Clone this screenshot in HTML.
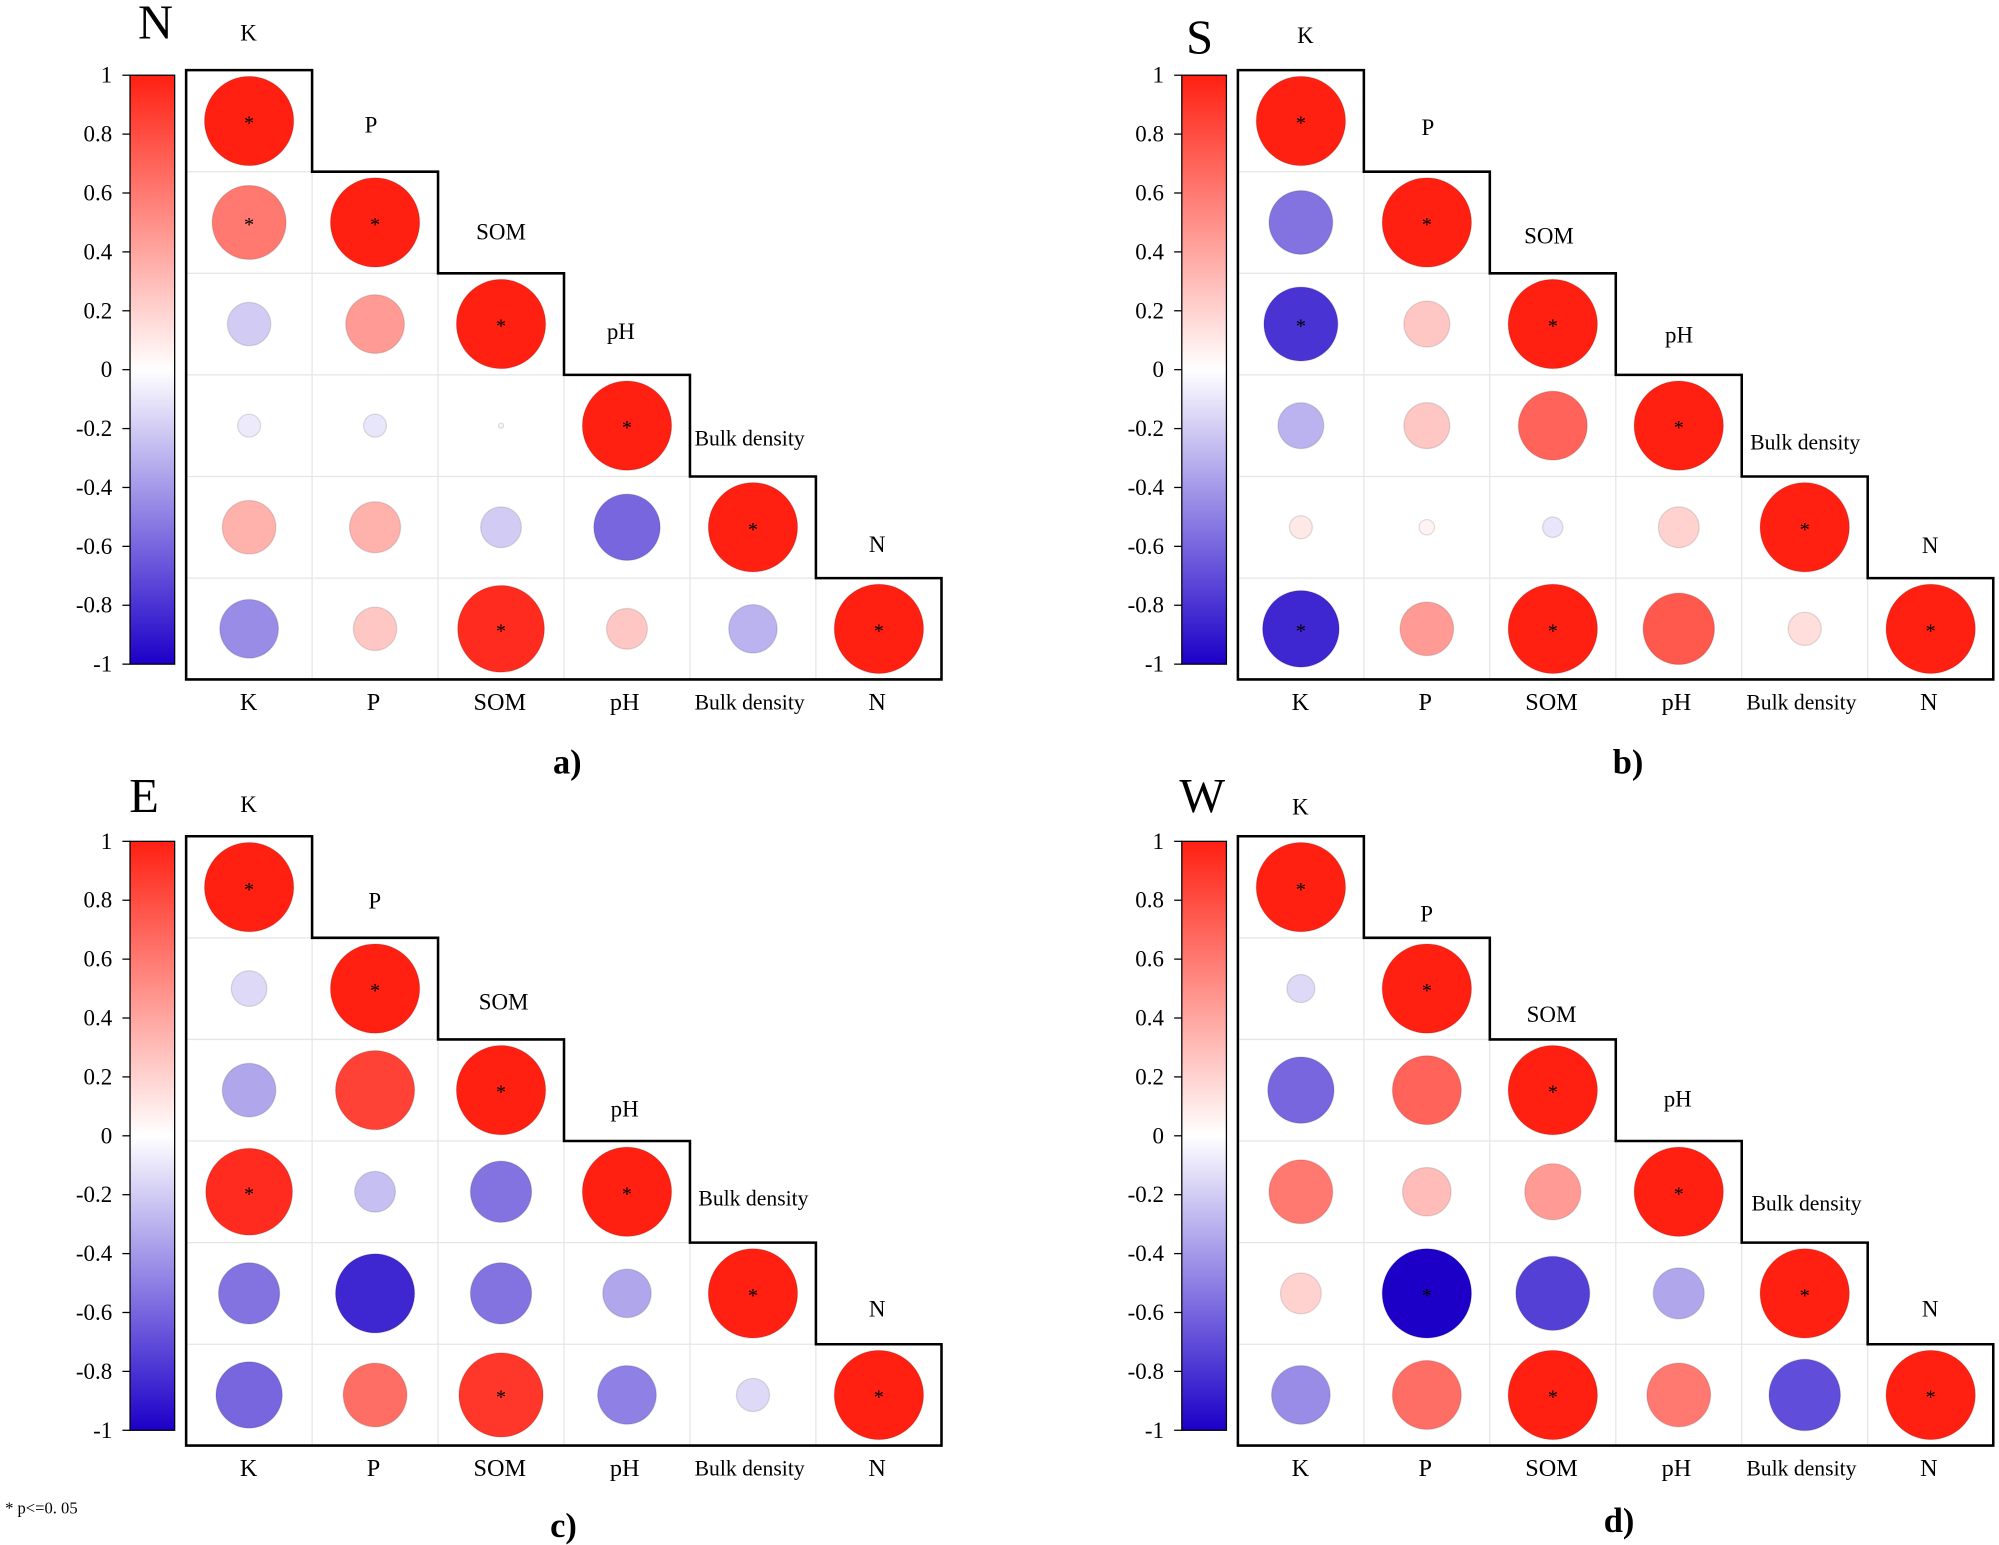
<!DOCTYPE html>
<html><head><meta charset="utf-8"><style>
html,body{margin:0;padding:0;background:#fff;}
svg{display:block;}
text{font-family:"Liberation Serif",serif;fill:#000;}
circle{stroke:rgba(0,0,0,0.12);stroke-width:1;}
</style></head><body>
<svg width="1999" height="1545" viewBox="0 0 1568 1212" preserveAspectRatio="none" xmlns="http://www.w3.org/2000/svg">
<defs>
<linearGradient id="cb" x1="0" y1="0" x2="0" y2="1">
<stop offset="0" stop-color="#FF2012"/><stop offset="0.5" stop-color="#FFFFFF"/><stop offset="1" stop-color="#1C00C8"/>
</linearGradient>
<g id="frame">
<rect x="102" y="59" width="35" height="462" fill="url(#cb)" stroke="#000" stroke-width="1"/>
<g stroke="#000" stroke-width="1">
<line x1="96" y1="59" x2="102" y2="59"/><line x1="96" y1="105.2" x2="102" y2="105.2"/><line x1="96" y1="151.4" x2="102" y2="151.4"/><line x1="96" y1="197.6" x2="102" y2="197.6"/><line x1="96" y1="243.8" x2="102" y2="243.8"/><line x1="96" y1="290" x2="102" y2="290"/><line x1="96" y1="336.2" x2="102" y2="336.2"/><line x1="96" y1="382.4" x2="102" y2="382.4"/><line x1="96" y1="428.6" x2="102" y2="428.6"/><line x1="96" y1="474.8" x2="102" y2="474.8"/><line x1="96" y1="521" x2="102" y2="521"/>
</g>
<g font-size="18" text-anchor="end" dominant-baseline="central">
<text x="88" y="59">1</text><text x="88" y="105.2">0.8</text><text x="88" y="151.4">0.6</text><text x="88" y="197.6">0.4</text><text x="88" y="243.8">0.2</text><text x="88" y="290">0</text><text x="88" y="336.2">-0.2</text><text x="88" y="382.4">-0.4</text><text x="88" y="428.6">-0.6</text><text x="88" y="474.8">-0.8</text><text x="88" y="521">-1</text>
</g>
<g stroke="#e6e6e6" stroke-width="1">
<line x1="244.8" y1="134.7" x2="244.8" y2="533"/><line x1="343.6" y1="214.4" x2="343.6" y2="533"/><line x1="442.4" y1="294.1" x2="442.4" y2="533"/><line x1="541.2" y1="373.8" x2="541.2" y2="533"/><line x1="640" y1="453.5" x2="640" y2="533"/>
<line x1="146" y1="134.7" x2="244.8" y2="134.7"/><line x1="146" y1="214.4" x2="343.6" y2="214.4"/><line x1="146" y1="294.1" x2="442.4" y2="294.1"/><line x1="146" y1="373.8" x2="541.2" y2="373.8"/><line x1="146" y1="453.5" x2="640" y2="453.5"/>
</g>
<path d="M146,55 H244.8 V134.7 H343.6 V214.4 H442.4 V294.1 H541.2 V373.8 H640 V453.5 H738.5 V533 H146 Z" fill="none" stroke="#000" stroke-width="2"/>
<g font-size="19" text-anchor="middle" dominant-baseline="central">
<text x="195" y="551">K</text><text x="293" y="551">P</text><text x="392" y="551">SOM</text><text x="490" y="551">pH</text><text x="588" y="551" font-size="17">Bulk density</text><text x="688" y="551">N</text>
</g>
<g fill="#FF2012">
<circle cx="195.4" cy="94.9" r="35"/><circle cx="294.2" cy="174.5" r="35"/><circle cx="393" cy="254.2" r="35"/><circle cx="491.8" cy="333.9" r="35"/><circle cx="590.6" cy="413.6" r="35"/><circle cx="689.4" cy="493.3" r="35"/>
</g>
<g font-size="16" text-anchor="middle" dominant-baseline="central">
<text x="195.4" y="97">*</text><text x="294.2" y="176.5">*</text><text x="393" y="256.2">*</text><text x="491.8" y="335.9">*</text><text x="590.6" y="415.6">*</text><text x="689.4" y="495.3">*</text>
</g>
</g>
</defs>

<!-- Panel a -->
<g>
<use href="#frame"/>
<text x="122" y="18" font-size="38" text-anchor="middle" dominant-baseline="central">N</text>
<g font-size="18" text-anchor="middle" dominant-baseline="central">
<text x="195" y="26">K</text><text x="291" y="98">P</text><text x="393" y="182">SOM</text><text x="487" y="260">pH</text><text x="588" y="344" font-size="17">Bulk density</text><text x="688" y="427">N</text>
</g>
<circle cx="195.4" cy="174.5" r="29" fill="#FF7971"/>
<circle cx="195.4" cy="254.2" r="17" fill="#D2CCF4"/><circle cx="294.2" cy="254.2" r="23" fill="#FF9B94"/>
<circle cx="195.4" cy="333.9" r="9" fill="#EDEBFB"/><circle cx="294.2" cy="333.9" r="9" fill="#E8E6FA"/><circle cx="393" cy="333.9" r="2" fill="#F6F6FD"/>
<circle cx="195.4" cy="413.6" r="21" fill="#FFB1AC"/><circle cx="294.2" cy="413.6" r="20" fill="#FFB1AC"/><circle cx="393" cy="413.6" r="16" fill="#D2CCF4"/><circle cx="491.8" cy="413.6" r="26" fill="#7766DE"/>
<circle cx="195.4" cy="493.3" r="23" fill="#998CE6"/><circle cx="294.2" cy="493.3" r="17" fill="#FFC7C4"/><circle cx="393" cy="493.3" r="34" fill="#FF2B1E"/><circle cx="491.8" cy="493.3" r="16" fill="#FFC7C4"/><circle cx="590.6" cy="493.3" r="19" fill="#BBB3EF"/>
<g font-size="16" text-anchor="middle" dominant-baseline="central"><text x="195.4" y="176.5">*</text><text x="393" y="495.3">*</text></g>
<text x="445" y="598" font-size="27" font-weight="bold" text-anchor="middle" dominant-baseline="central">a)</text>
</g>

<!-- Panel b -->
<g transform="translate(825,0)">
<use href="#frame"/>
<text x="116" y="30" font-size="38" text-anchor="middle" dominant-baseline="central">S</text>
<g font-size="18" text-anchor="middle" dominant-baseline="central">
<text x="199" y="28">K</text><text x="295" y="100">P</text><text x="390" y="185">SOM</text><text x="492" y="263">pH</text><text x="591" y="347" font-size="17">Bulk density</text><text x="689" y="428">N</text>
</g>
<circle cx="195.4" cy="174.5" r="25" fill="#8273E1"/>
<circle cx="195.4" cy="254.2" r="29" fill="#4933D3"/><circle cx="294.2" cy="254.2" r="18" fill="#FFC7C4"/>
<circle cx="195.4" cy="333.9" r="18" fill="#BBB3EF"/><circle cx="294.2" cy="333.9" r="18" fill="#FFC7C4"/><circle cx="393" cy="333.9" r="27" fill="#FF6359"/>
<circle cx="195.4" cy="413.6" r="9" fill="#FFE9E7"/><circle cx="294.2" cy="413.6" r="6" fill="#FFF4F3"/><circle cx="393" cy="413.6" r="8" fill="#E8E6FA"/><circle cx="491.8" cy="413.6" r="16" fill="#FFD2D0"/>
<circle cx="195.4" cy="493.3" r="30" fill="#3E26D0"/><circle cx="294.2" cy="493.3" r="21" fill="#FF9B94"/><circle cx="393" cy="493.3" r="35" fill="#FF2012"/><circle cx="491.8" cy="493.3" r="28" fill="#FF584D"/><circle cx="590.6" cy="493.3" r="13" fill="#FFDEDB"/>
<g font-size="16" text-anchor="middle" dominant-baseline="central"><text x="195.4" y="256.2">*</text><text x="195.4" y="495.3">*</text><text x="393" y="495.3">*</text></g>
<text x="452" y="598" font-size="27" font-weight="bold" text-anchor="middle" dominant-baseline="central">b)</text>
</g>

<!-- Panel c -->
<g transform="translate(0,601)">
<use href="#frame"/>
<text x="113" y="24" font-size="38" text-anchor="middle" dominant-baseline="central">E</text>
<g font-size="18" text-anchor="middle" dominant-baseline="central">
<text x="195" y="30">K</text><text x="294" y="106">P</text><text x="395" y="185">SOM</text><text x="490" y="269">pH</text><text x="591" y="339" font-size="17">Bulk density</text><text x="688" y="426">N</text>
</g>
<circle cx="195.4" cy="174.5" r="14" fill="#DDD9F7"/>
<circle cx="195.4" cy="254.2" r="21" fill="#B0A6EC"/><circle cx="294.2" cy="254.2" r="31" fill="#FF4136"/>
<circle cx="195.4" cy="333.9" r="34" fill="#FF2B1E"/><circle cx="294.2" cy="333.9" r="16" fill="#C6BFF1"/><circle cx="393" cy="333.9" r="24" fill="#8273E1"/>
<circle cx="195.4" cy="413.6" r="24" fill="#8273E1"/><circle cx="294.2" cy="413.6" r="31" fill="#3E26D0"/><circle cx="393" cy="413.6" r="24" fill="#8273E1"/><circle cx="491.8" cy="413.6" r="19" fill="#B0A6EC"/>
<circle cx="195.4" cy="493.3" r="26" fill="#7766DE"/><circle cx="294.2" cy="493.3" r="25" fill="#FF6E65"/><circle cx="393" cy="493.3" r="33" fill="#FF362A"/><circle cx="491.8" cy="493.3" r="23" fill="#8E80E4"/><circle cx="590.6" cy="493.3" r="13" fill="#DDD9F7"/>
<g font-size="16" text-anchor="middle" dominant-baseline="central"><text x="195.4" y="335.9">*</text><text x="393" y="495.3">*</text></g>
<text x="442" y="596" font-size="27" font-weight="bold" text-anchor="middle" dominant-baseline="central">c)</text>
<text x="4" y="582" font-size="13" dominant-baseline="central">* p&lt;=0. 05</text>
</g>

<!-- Panel d -->
<g transform="translate(825,601)">
<use href="#frame"/>
<text x="118" y="24" font-size="38" text-anchor="middle" dominant-baseline="central">W</text>
<g font-size="18" text-anchor="middle" dominant-baseline="central">
<text x="195" y="32">K</text><text x="294" y="116">P</text><text x="392" y="195">SOM</text><text x="491" y="261">pH</text><text x="592" y="343" font-size="17">Bulk density</text><text x="689" y="426">N</text>
</g>
<circle cx="195.4" cy="174.5" r="11" fill="#DDD9F7"/>
<circle cx="195.4" cy="254.2" r="26" fill="#7766DE"/><circle cx="294.2" cy="254.2" r="27" fill="#FF6359"/>
<circle cx="195.4" cy="333.9" r="25" fill="#FF7971"/><circle cx="294.2" cy="333.9" r="19" fill="#FFBCB8"/><circle cx="393" cy="333.9" r="22" fill="#FF9B94"/>
<circle cx="195.4" cy="413.6" r="16" fill="#FFD2D0"/><circle cx="294.2" cy="413.6" r="35" fill="#1C00C8"/><circle cx="393" cy="413.6" r="29" fill="#5540D6"/><circle cx="491.8" cy="413.6" r="20" fill="#B0A6EC"/>
<circle cx="195.4" cy="493.3" r="23" fill="#998CE6"/><circle cx="294.2" cy="493.3" r="27" fill="#FF6E65"/><circle cx="393" cy="493.3" r="35" fill="#FF2012"/><circle cx="491.8" cy="493.3" r="25" fill="#FF7971"/><circle cx="590.6" cy="493.3" r="28" fill="#604DD9"/>
<g font-size="16" text-anchor="middle" dominant-baseline="central"><text x="294.2" y="415.6">*</text><text x="393" y="495.3">*</text></g>
<text x="445" y="592" font-size="27" font-weight="bold" text-anchor="middle" dominant-baseline="central">d)</text>
</g>
</svg>
</body></html>
